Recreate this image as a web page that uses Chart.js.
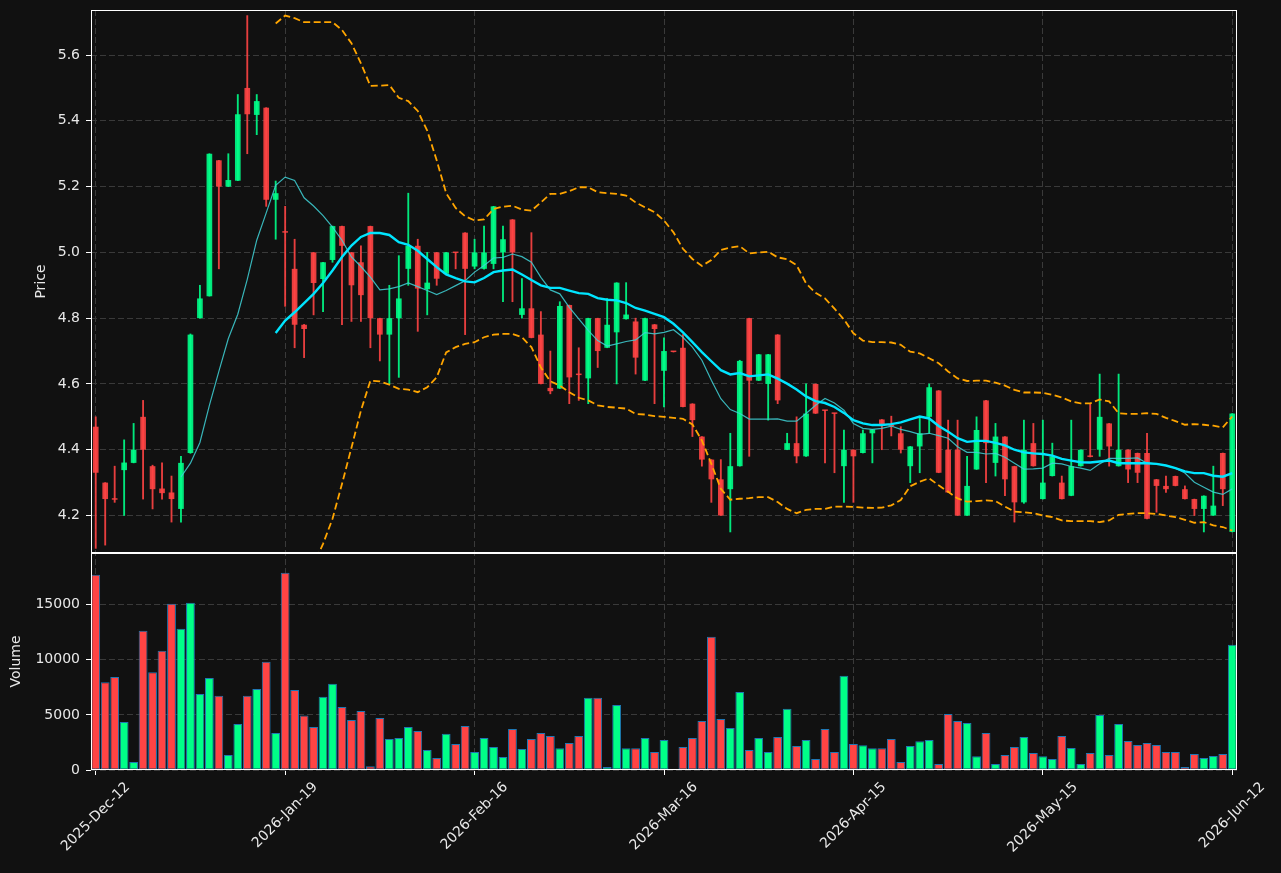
<!DOCTYPE html>
<html>
<head>
<meta charset="utf-8">
<script src="https://cdn.jsdelivr.net/npm/chart.js@4.4.1/dist/chart.umd.min.js"></script>
<style>
  html, body { margin: 0; padding: 0; background: #111111; }
  canvas { display: block; }
</style>
</head>
<body>
<canvas id="chart" width="1281" height="873"></canvas>
<script>
// DATA
const tickDates = ["2025-Dec-12", "2026-Jan-19", "2026-Feb-16", "2026-Mar-16",
  "2026-Apr-15", "2026-May-15", "2026-Jun-12"];
const tickStep = 20;

const opens = [
  4.47, 4.30, 4.252, 4.338, 4.36, 4.50, 4.35, 4.282, 4.27, 4.22,
  4.39, 4.80, 4.867, 5.28, 5.20, 5.218, 5.50, 5.418, 5.44, 5.16,
  5.062, 4.95, 4.78, 5.00, 4.919, 4.977, 5.08, 5.00, 4.97, 5.08,
  4.80, 4.75, 4.80, 4.95, 5.02, 4.888, 5.00, 4.935, 5.00, 5.06,
  4.957, 4.95, 4.965, 5.00, 5.10, 4.81, 4.83, 4.75, 4.588, 4.586,
  4.84, 4.629, 4.617, 4.80, 4.71, 4.757, 4.797, 4.79, 4.61, 4.781,
  4.64, 4.699, 4.71, 4.54, 4.44, 4.37, 4.31, 4.28, 4.35, 4.80,
  4.61, 4.60, 4.75, 4.40, 4.42, 4.38, 4.60, 4.520, 4.511, 4.35,
  4.40, 4.39, 4.45, 4.492, 4.473, 4.45, 4.35, 4.41, 4.50, 4.58,
  4.40, 4.40, 4.20, 4.34, 4.55, 4.36, 4.44, 4.35, 4.24, 4.42,
  4.25, 4.32, 4.30, 4.26, 4.35, 4.380, 4.40, 4.48, 4.35, 4.40,
  4.39, 4.39, 4.31, 4.29, 4.32, 4.28, 4.25, 4.22, 4.20, 4.39,
  4.15
];
const highs = [
  4.50, 4.30, 4.35, 4.43, 4.48, 4.55, 4.353, 4.36, 4.32, 4.38,
  4.752, 4.90, 5.30, 5.28, 5.30, 5.48, 5.72, 5.48, 5.44, 5.217,
  5.14, 5.04, 4.781, 5.00, 4.97, 5.08, 5.08, 5.00, 5.02, 5.08,
  4.80, 4.90, 4.99, 5.18, 5.04, 5.00, 5.00, 5.00, 5.00, 5.06,
  5.04, 5.08, 5.14, 5.08, 5.10, 4.92, 5.06, 4.82, 4.70, 4.85,
  4.84, 4.71, 4.80, 4.80, 4.86, 4.908, 4.908, 4.80, 4.80, 4.781,
  4.74, 4.699, 4.75, 4.54, 4.44, 4.37, 4.37, 4.45, 4.672, 4.80,
  4.69, 4.69, 4.75, 4.45, 4.50, 4.60, 4.60, 4.52, 4.511, 4.46,
  4.40, 4.46, 4.462, 4.492, 4.502, 4.47, 4.41, 4.50, 4.60, 4.58,
  4.49, 4.49, 4.38, 4.50, 4.55, 4.48, 4.44, 4.35, 4.49, 4.48,
  4.49, 4.42, 4.32, 4.49, 4.40, 4.54, 4.63, 4.48, 4.63, 4.40,
  4.39, 4.45, 4.31, 4.32, 4.32, 4.29, 4.25, 4.26, 4.35, 4.39,
  4.51
];
const lows = [
  4.10, 4.11, 4.24, 4.20, 4.36, 4.25, 4.22, 4.25, 4.18, 4.18,
  4.389, 4.80, 4.867, 4.95, 5.20, 5.218, 5.30, 5.358, 5.14, 5.04,
  4.836, 4.71, 4.68, 4.81, 4.82, 4.97, 4.78, 4.79, 4.79, 4.71,
  4.67, 4.60, 4.62, 4.90, 4.76, 4.81, 4.90, 4.935, 4.95, 4.75,
  4.95, 4.949, 4.95, 4.85, 4.85, 4.80, 4.74, 4.60, 4.57, 4.586,
  4.54, 4.55, 4.54, 4.65, 4.71, 4.60, 4.797, 4.63, 4.61, 4.54,
  4.53, 4.697, 4.53, 4.44, 4.35, 4.24, 4.20, 4.15, 4.35, 4.38,
  4.61, 4.49, 4.54, 4.40, 4.36, 4.38, 4.51, 4.36, 4.33, 4.24,
  4.24, 4.39, 4.36, 4.40, 4.442, 4.39, 4.30, 4.33, 4.45, 4.33,
  4.27, 4.20, 4.20, 4.34, 4.30, 4.32, 4.26, 4.18, 4.237, 4.35,
  4.25, 4.32, 4.25, 4.26, 4.35, 4.378, 4.38, 4.35, 4.35, 4.30,
  4.30, 4.19, 4.21, 4.27, 4.29, 4.25, 4.20, 4.15, 4.20, 4.23,
  4.15
];
const closes = [
  4.33, 4.25, 4.248, 4.361, 4.40, 4.40, 4.28, 4.268, 4.25, 4.36,
  4.75, 4.86, 5.30, 5.20, 5.22, 5.42, 5.42, 5.46, 5.16, 5.18,
  5.06, 4.78, 4.767, 4.907, 4.97, 5.08, 5.02, 4.90, 4.87, 4.80,
  4.75, 4.80, 4.86, 5.02, 4.89, 4.908, 4.92, 5.00, 4.998, 4.95,
  5.00, 5.00, 5.14, 5.04, 5.00, 4.83, 4.74, 4.60, 4.578, 4.837,
  4.62, 4.627, 4.80, 4.70, 4.78, 4.908, 4.811, 4.68, 4.80, 4.767,
  4.70, 4.697, 4.53, 4.49, 4.37, 4.31, 4.20, 4.35, 4.67, 4.61,
  4.69, 4.69, 4.55, 4.42, 4.38, 4.51, 4.51, 4.518, 4.509, 4.40,
  4.38, 4.45, 4.462, 4.472, 4.471, 4.40, 4.41, 4.45, 4.59, 4.33,
  4.27, 4.20, 4.29, 4.46, 4.42, 4.44, 4.31, 4.24, 4.40, 4.35,
  4.30, 4.38, 4.25, 4.35, 4.40, 4.378, 4.50, 4.41, 4.40, 4.34,
  4.33, 4.19, 4.29, 4.28, 4.29, 4.25, 4.22, 4.26, 4.23, 4.28,
  4.51
];
const volumes = [
  17730, 7970, 8450, 4360, 730, 12640, 8880, 10820, 15090, 12820,
  15180, 6910, 8360, 6730, 1360, 4180, 6730, 7360, 9820, 3360,
  17910, 7270, 4940, 3910, 6640, 7820, 5730, 4550, 5360, 330,
  4730, 2820, 2910, 3910, 3550, 1820, 1090, 3300, 2360, 4000,
  1640, 2910, 2090, 1180, 3730, 1910, 2820, 3360, 3090, 1970,
  2450, 3090, 6550, 6550, 270, 5910, 1970, 1970, 2910, 1640,
  2730, 0, 2090, 2910, 4450, 12090, 4640, 3820, 7090, 1820,
  2910, 1640, 3000, 5550, 2180, 2730, 1000, 3730, 1640, 8550,
  2360, 2240, 1970, 1970, 2820, 730, 2180, 2610, 2730, 550,
  5090, 4450, 4270, 1240, 3360, 550, 1360, 2090, 3000, 1550,
  1240, 1000, 3090, 2000, 550, 1550, 5000, 1360, 4180, 2640,
  2270, 2450, 2270, 1640, 1640, 270, 1450, 1090, 1270, 1450,
  11360
];
const ma10 = [
  null, null, null, null, null, null, null, null, null, 4.317,
  4.359, 4.422, 4.535, 4.638, 4.738, 4.812, 4.918, 5.037, 5.120, 5.204,
  5.229, 5.219, 5.166, 5.141, 5.112, 5.077, 5.037, 4.986, 4.957, 4.925,
  4.886, 4.889, 4.896, 4.907, 4.896, 4.884, 4.872, 4.884, 4.899, 4.914,
  4.940, 4.960, 4.983, 4.985, 4.995, 4.987, 4.970, 4.924, 4.886, 4.874,
  4.833, 4.798, 4.763, 4.732, 4.715, 4.722, 4.729, 4.734, 4.756, 4.752,
  4.757, 4.765, 4.742, 4.712, 4.672, 4.611, 4.555, 4.522, 4.510, 4.493,
  4.493, 4.493, 4.494, 4.487, 4.487, 4.510, 4.535, 4.556, 4.542, 4.520,
  4.480, 4.465, 4.462, 4.465, 4.472, 4.462, 4.455, 4.447, 4.450, 4.443,
  4.435, 4.409, 4.392, 4.392, 4.387, 4.389, 4.377, 4.359, 4.341, 4.342,
  4.344, 4.359, 4.357, 4.349, 4.344, 4.337, 4.357, 4.374, 4.374, 4.374,
  4.375, 4.359, 4.357, 4.352, 4.344, 4.329, 4.301, 4.286, 4.271, 4.264,
  4.281
];
const ma20 = [
  null, null, null, null, null, null, null, null, null, null,
  null, null, null, null, null, null, null, null, null, 4.755,
  4.793, 4.818, 4.846, 4.874, 4.907, 4.945, 4.986, 5.021, 5.047, 5.059,
  5.059, 5.053, 5.031, 5.023, 5.005, 4.980, 4.955, 4.933, 4.922, 4.912,
  4.909, 4.922, 4.940, 4.945, 4.948, 4.933, 4.916, 4.900, 4.892, 4.892,
  4.884, 4.876, 4.874, 4.861, 4.856, 4.854, 4.846, 4.831, 4.823, 4.813,
  4.803, 4.783, 4.757, 4.727, 4.697, 4.669, 4.642, 4.629, 4.633, 4.623,
  4.626, 4.629, 4.616, 4.601, 4.583, 4.562, 4.548, 4.542, 4.530, 4.512,
  4.490, 4.480, 4.475, 4.475, 4.478, 4.483, 4.492, 4.501, 4.495, 4.472,
  4.455, 4.435, 4.424, 4.427, 4.427, 4.421, 4.413, 4.400, 4.392, 4.389,
  4.387, 4.382, 4.372, 4.367, 4.362, 4.361, 4.364, 4.367, 4.359, 4.359,
  4.359, 4.359, 4.357, 4.352, 4.344, 4.334, 4.329, 4.329, 4.321, 4.318,
  4.329
];
const bbUpper = [
  null, null, null, null, null, null, null, null, null, null,
  null, null, null, null, null, null, null, null, null, 5.696,
  5.720, 5.712, 5.700, 5.700, 5.700, 5.700, 5.676, 5.636, 5.575, 5.506,
  5.507, 5.509, 5.470, 5.460, 5.430, 5.370, 5.280, 5.180, 5.135, 5.110,
  5.097, 5.100, 5.132, 5.139, 5.142, 5.130, 5.127, 5.152, 5.178, 5.178,
  5.186, 5.198, 5.198, 5.183, 5.180, 5.178, 5.173, 5.152, 5.137, 5.122,
  5.097, 5.061, 5.011, 4.980, 4.959, 4.977, 5.007, 5.015, 5.019, 4.997,
  5.000, 5.002, 4.985, 4.979, 4.961, 4.906, 4.877, 4.860, 4.829, 4.796,
  4.754, 4.732, 4.727, 4.727, 4.726, 4.719, 4.698, 4.693, 4.678, 4.663,
  4.638, 4.617, 4.609, 4.610, 4.610, 4.604, 4.595, 4.582, 4.574, 4.574,
  4.573, 4.567, 4.559, 4.547, 4.541, 4.541, 4.553, 4.547, 4.511, 4.509,
  4.509, 4.511, 4.509, 4.497, 4.487, 4.476, 4.478, 4.476, 4.473, 4.468,
  4.501
];
const bbLower = [
  null, null, null, null, null, null, null, null, null, null,
  null, null, null, null, null, null, null, null, null, 3.810,
  3.870, 3.920, 3.990, 4.050, 4.114, 4.190, 4.296, 4.406, 4.519, 4.610,
  4.608, 4.598, 4.585, 4.583, 4.575, 4.590, 4.620, 4.696, 4.712, 4.722,
  4.727, 4.742, 4.750, 4.752, 4.752, 4.742, 4.712, 4.650, 4.608, 4.595,
  4.575, 4.558, 4.550, 4.535, 4.530, 4.528, 4.525, 4.509, 4.507, 4.502,
  4.500, 4.497, 4.494, 4.477, 4.428, 4.357, 4.281, 4.248, 4.251, 4.253,
  4.256, 4.256, 4.241, 4.220, 4.207, 4.217, 4.220, 4.220, 4.227, 4.227,
  4.226, 4.224, 4.223, 4.224, 4.231, 4.247, 4.289, 4.303, 4.313, 4.292,
  4.272, 4.252, 4.242, 4.244, 4.246, 4.244, 4.227, 4.212, 4.210, 4.207,
  4.200, 4.195, 4.185, 4.183, 4.183, 4.183, 4.180, 4.185, 4.202, 4.205,
  4.207, 4.207, 4.205, 4.200, 4.195, 4.187, 4.178, 4.180, 4.170, 4.165,
  4.154
];
const priceTicks = [4.2, 4.4, 4.6, 4.8, 5.0, 5.2, 5.4, 5.6];
const volumeTicks = [0, 5000, 10000, 15000];

// STYLE
const BG = "#111111";
const TEXT = "#e8e8e8";
const GRID = "#3a3a3a";
const UP = "rgba(0,255,136,0.9)";
const DOWN = "rgba(255,68,68,0.9)";
const UP_VOL = "#00ff88";
const DOWN_VOL = "#ff4444";
const FONT = { family: "DejaVu Sans", size: 14 };

const labels = opens.map((_, i) => i);
const isUp = (i) => closes[i] >= opens[i];
const candleColor = (ctx) => (isUp(ctx.dataIndex) ? UP : DOWN);

// clip each dataset to its own panel
const panelClip = {
  id: "panelClip",
  beforeDatasetDraw(chart, args) {
    const ys = args.meta.yScale;
    const { left, right } = chart.chartArea;
    chart.ctx.save();
    chart.ctx.beginPath();
    chart.ctx.rect(left, ys.top, right - left, ys.bottom - ys.top);
    chart.ctx.clip();
  },
  afterDatasetDraw(chart) {
    chart.ctx.restore();
  },
};

// frames, axis titles and rotated date labels
const decorations = {
  id: "decorations",
  afterDraw(chart) {
    const { ctx, chartArea, scales } = chart;
    const { left, right } = chartArea;
    ctx.save();
    ctx.strokeStyle = "#ffffff";
    ctx.lineWidth = 1;
    [scales.y, scales.yv].forEach((s) => {
      ctx.strokeRect(left + 0.5, s.top + 0.5, right - left - 1, s.bottom - s.top - 1);
    });

    ctx.fillStyle = TEXT;
    ctx.font = '14px "DejaVu Sans"';
    ctx.textAlign = "center";
    ctx.textBaseline = "middle";
    [["Price", 41, scales.y], ["Volume", 16, scales.yv]].forEach(([t, x, s]) => {
      ctx.save();
      ctx.translate(x, (s.top + s.bottom) / 2);
      ctx.rotate(-Math.PI / 2);
      ctx.fillText(t, 0, 0);
      ctx.restore();
    });

    tickDates.forEach((d, k) => {
      const px = scales.x.getPixelForValue(k * tickStep);
      const w = ctx.measureText(d).width;
      const half = ((w + 14) * Math.SQRT1_2) / 2;
      ctx.save();
      ctx.translate(px, chartArea.bottom + 10 + half);
      ctx.rotate(-Math.PI / 4);
      ctx.fillText(d, 0, 0);
      ctx.restore();
    });
    ctx.restore();
  },
};

const xGrid = (c) => (c.index % tickStep === 0 ? GRID : "transparent");
const xTick = (c) => (c.index % tickStep === 0 ? "#ffffff" : "transparent");
const fitY = (s) => {
  s.width = 91;
  s.paddingTop = 0;
  s.paddingBottom = 0;
};

new Chart(document.getElementById("chart"), {
  type: "bar",
  data: {
    labels: labels,
    datasets: [
      {
        label: "Volume",
        data: volumes,
        yAxisID: "yv",
        backgroundColor: (ctx) => (isUp(ctx.dataIndex) ? UP_VOL : DOWN_VOL),
        borderColor: "#1f77b4",
        borderWidth: 1,
        borderSkipped: false,
        barPercentage: 0.93,
        categoryPercentage: 1,
        grouped: false,
        order: 6,
      },
      {
        label: "Wick",
        data: highs.map((h, i) => [lows[i], h]),
        yAxisID: "y",
        backgroundColor: candleColor,
        barThickness: 1.2,
        grouped: false,
        order: 5,
      },
      {
        label: "Body",
        data: opens.map((o, i) => [o, closes[i]]),
        yAxisID: "y",
        backgroundColor: candleColor,
        barPercentage: 0.6,
        categoryPercentage: 1,
        minBarLength: 1.5,
        grouped: false,
        order: 4,
      },
      {
        type: "line",
        label: "BB Upper",
        data: bbUpper,
        yAxisID: "y",
        borderColor: "#ffa500",
        borderWidth: 1.8,
        borderDash: [7, 3.5],
        pointRadius: 0,
        tension: 0,
        order: 3,
      },
      {
        type: "line",
        label: "BB Lower",
        data: bbLower,
        yAxisID: "y",
        borderColor: "#ffa500",
        borderWidth: 1.8,
        borderDash: [7, 3.5],
        pointRadius: 0,
        tension: 0,
        order: 3,
      },
      {
        type: "line",
        label: "MA10",
        data: ma10,
        yAxisID: "y",
        borderColor: "rgba(64,210,215,0.85)",
        borderWidth: 1.2,
        pointRadius: 0,
        tension: 0,
        order: 2,
      },
      {
        type: "line",
        label: "MA20",
        data: ma20,
        yAxisID: "y",
        borderColor: "#00e5ff",
        borderWidth: 2.4,
        pointRadius: 0,
        tension: 0,
        order: 1,
      },
    ],
  },
  options: {
    responsive: false,
    animation: false,
    events: [],
    layout: { padding: { top: 10, right: 44, bottom: 0, left: 0 } },
    plugins: { legend: { display: false }, tooltip: { enabled: false } },
    scales: {
      x: {
        type: "category",
        offset: true,
        grid: { offset: false, color: xGrid, tickColor: xTick, tickLength: 5, lineWidth: 1 },
        border: { display: false, dash: [6, 3] },
        ticks: { display: false, autoSkip: false },
        afterFit: (s) => {
          s.height = 103;
          s.paddingLeft = 0;
          s.paddingRight = 0;
        },
      },
      y: {
        type: "linear",
        position: "left",
        stack: "panels",
        stackWeight: 543,
        weight: 2,
        min: 4.086,
        max: 5.737,
        afterBuildTicks: (s) => { s.ticks = priceTicks.map((v) => ({ value: v })); },
        ticks: { color: TEXT, font: FONT, padding: 6, callback: (v) => Number(v).toFixed(1) },
        grid: { color: GRID, tickColor: "#ffffff", tickLength: 5 },
        border: { display: false, dash: [6, 3] },
        afterFit: fitY,
      },
      yv: {
        type: "linear",
        position: "left",
        stack: "panels",
        stackWeight: 217,
        weight: 1,
        min: 0,
        max: 19700,
        afterBuildTicks: (s) => { s.ticks = volumeTicks.map((v) => ({ value: v })); },
        ticks: { color: TEXT, font: FONT, padding: 6, callback: (v) => String(v) },
        grid: { color: GRID, tickColor: "#ffffff", tickLength: 5 },
        border: { display: false, dash: [6, 3] },
        afterFit: fitY,
      },
    },
  },
  plugins: [panelClip, decorations],
});
</script>
</body>
</html>
